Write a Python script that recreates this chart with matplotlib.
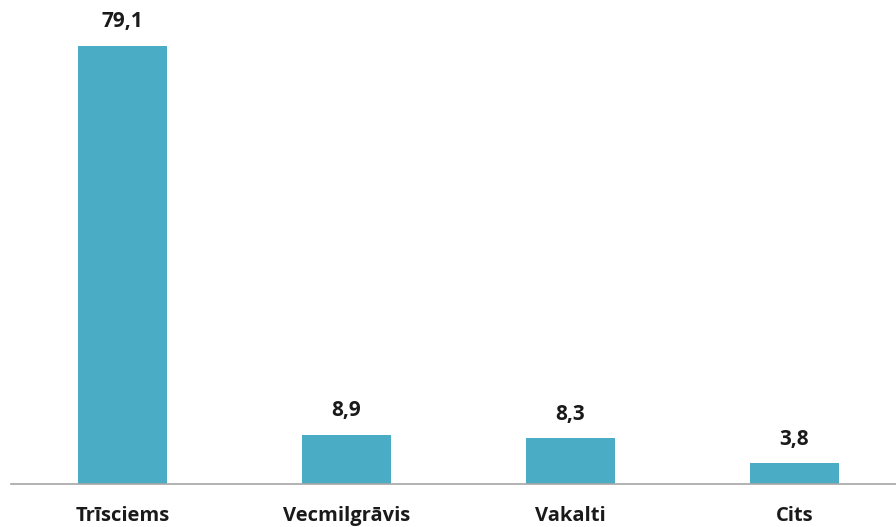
import matplotlib.pyplot as plt

categories = ['Trīsciems', 'Vecmilgrāvis', 'Vakalti', 'Cits']
values = [79.1, 8.9, 8.3, 3.8]
labels = ['79,1', '8,9', '8,3', '3,8']

plt.rcParams['font.family'] = ['Open Sans', 'DejaVu Sans']

fig = plt.figure(figsize=(8.96, 5.27), dpi=100)
# axes spans past the right edge like in the original crop
ax = fig.add_axes([10.5 / 896, 43 / 527, 896 / 896, 484 / 527])

x = range(len(categories))
bars = ax.bar(x, values, width=0.4, color='#4BACC6')
ax.set_xlim(-0.5, 3.5)
ax.set_ylim(0, 484 / 5.54)

for b, lab in zip(bars, labels):
    ax.text(b.get_x() + b.get_width() / 2, b.get_height() + 2.4, lab,
            ha='center', va='bottom', fontsize=15, fontweight='bold', color='#1a1a1a')

ax.set_xticks(list(x))
ax.set_xticklabels(categories, fontsize=14.5, fontweight='bold', color='#1a1a1a')
ax.tick_params(axis='x', length=0, pad=16)
ax.set_yticks([])
for s in ['top', 'right', 'left']:
    ax.spines[s].set_visible(False)
ax.spines['bottom'].set_color('#a6a6a6')
ax.spines['bottom'].set_linewidth(1.2)

fig.savefig('out.png', dpi=100)
